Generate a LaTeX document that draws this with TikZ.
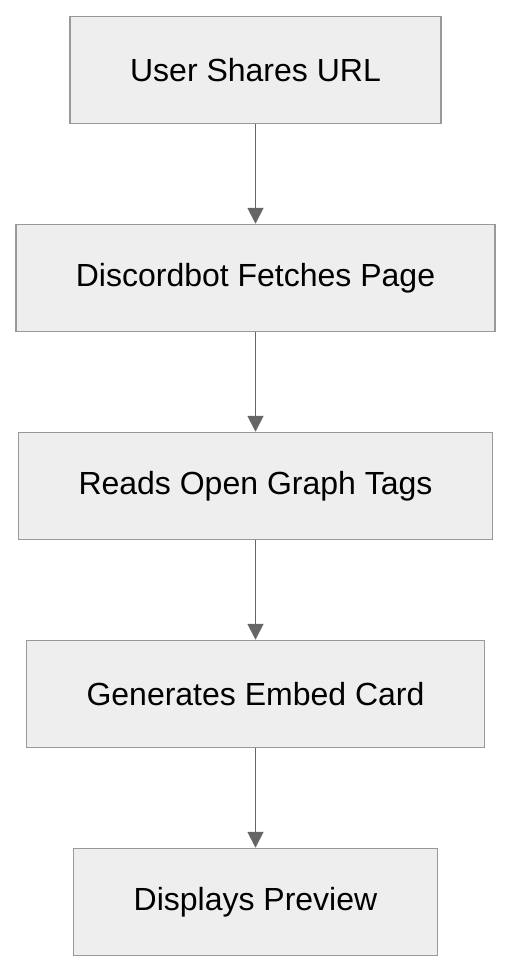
\documentclass[tikz,border=0pt]{standalone}
\usepackage{fontspec}
\setmainfont{Liberation Sans}
\usetikzlibrary{positioning,arrows.meta}
\definecolor{boxfill}{HTML}{EEEEEE}
\definecolor{boxline}{HTML}{999999}
\definecolor{arrowline}{HTML}{666666}
\tikzset{
  flowbox/.style={draw=boxline, line width=1.5pt, fill=boxfill, rectangle,
    minimum height=107pt, inner xsep=60pt, font=\fontsize{32}{38}\selectfont},
  flowarrow/.style={draw=arrowline, line width=1.8pt,
    -{Triangle[length=16pt,width=16pt]}}
}
\begin{document}
\begin{tikzpicture}[node distance=99.5pt]
        \useasboundingbox (0pt,0pt) rectangle (512pt,-972pt);
        \node (share) [flowbox] at (255.5pt,-70pt) {User Shares URL};
        \node (fetch) [flowbox, below=of share] {Discordbot Fetches Page};
        \node (tags) [flowbox, below=of fetch] {Reads Open Graph Tags};
        \node (embed) [flowbox, below=of tags] {Generates Embed Card};
        \node (preview) [flowbox, below=of embed] {Displays Preview};

        \draw[flowarrow] (share) -- (fetch);
        \draw[flowarrow] (fetch) -- (tags);
        \draw[flowarrow] (tags) -- (embed);
        \draw[flowarrow] (embed) -- (preview);
    \end{tikzpicture}
\end{document}
